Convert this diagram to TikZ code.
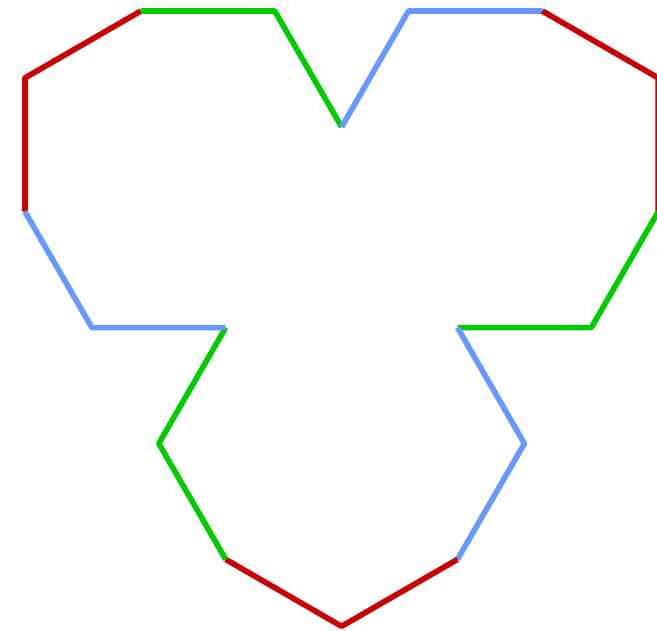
\documentclass[tikz,border=0pt]{standalone}
\usepackage{tikz}

\definecolor{kred}{RGB}{204,0,0}
\definecolor{kgreen}{RGB}{0,204,0}
\definecolor{kblue}{RGB}{102,153,255}

\begin{document}
\begin{tikzpicture}[x=0.02cm,y=-0.02cm,line width=3.2pt,line join=round]
            \useasboundingbox (0,0) rectangle (657,630);

            \coordinate (a) at (25,211.7);
            \coordinate (b) at (25,77.9);
            \coordinate (c) at (140.9,11);
            \coordinate (d) at (274.7,11);
            \coordinate (e) at (341.6,126.9);
            \coordinate (f) at (408.5,11);
            \coordinate (g) at (542.3,11);
            \coordinate (h) at (658.2,77.9);
            \coordinate (i) at (658.2,211.7);
            \coordinate (j) at (591.3,327.6);
            \coordinate (k) at (457.5,327.6);
            \coordinate (l) at (524.4,443.5);
            \coordinate (m) at (457.5,559.4);
            \coordinate (n) at (341.6,626.3);
            \coordinate (o) at (225.7,559.4);
            \coordinate (p) at (158.8,443.5);
            \coordinate (q) at (225.7,327.6);
            \coordinate (r) at (91.9,327.6);

            \draw[kred] (a) -- (b) -- (c);
            \draw[kgreen] (c) -- (d) -- (e);
            \draw[kblue] (e) -- (f) -- (g);
            \draw[kred] (g) -- (h) -- (i);
            \draw[kgreen] (i) -- (j) -- (k);
            \draw[kblue] (k) -- (l) -- (m);
            \draw[kred] (m) -- (n) -- (o);
            \draw[kgreen] (o) -- (p) -- (q);
            \draw[kblue] (q) -- (r) -- (a);
        \end{tikzpicture}
\end{document}
